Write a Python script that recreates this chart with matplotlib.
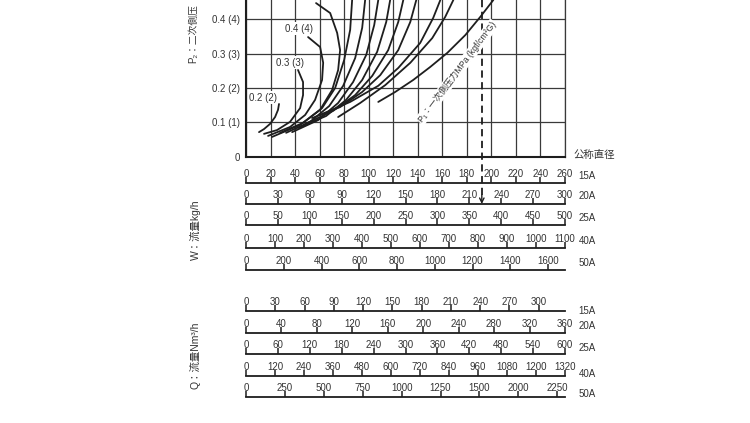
import matplotlib.pyplot as plt

plt.rcParams['font.family'] = ['Liberation Sans', 'Noto Sans CJK JP', 'DejaVu Sans']

# 二次側压力 (MPa) 刻度
p2_ticks = [0, 0.1, 0.2, 0.3, 0.4]
p2_labels = ['0', '0.1 (1)', '0.2 (2)', '0.3 (3)', '0.4 (4)']
w15_grid = list(range(0, 261, 20))

# 曲线: 横轴 = 15A 流量 kg/h, 纵轴 = P2 MPa
c02_w = [10.6, 14.7, 19.6, 23.7, 26.1, 26.9]
c02_p = [0.071, 0.080, 0.095, 0.115, 0.136, 0.153]
c03_w = [14.7, 25.3, 35.9, 44.1, 46.5, 46.5, 42.4]
c03_p = [0.066, 0.077, 0.101, 0.141, 0.179, 0.217, 0.252]
c04_w = [18.0, 35.9, 48.2, 56.3, 62.0, 62.9, 60.4, 50.6]
c04_p = [0.060, 0.086, 0.121, 0.165, 0.223, 0.273, 0.319, 0.348]
c05_w = [21.2, 44.1, 60.4, 70.2, 75.1, 76.7, 74.3, 68.6, 57.1]
c05_p = [0.057, 0.092, 0.136, 0.194, 0.252, 0.310, 0.360, 0.418, 0.447]
c06_w = [27.8, 46.5, 62.0, 72.7, 80.0, 84.9, 86.5]
c06_p = [0.069, 0.098, 0.141, 0.200, 0.281, 0.369, 0.456]
c07_w = [32.7, 52.2, 67.8, 79.2, 89.0, 94.7, 97.1]
c07_p = [0.069, 0.101, 0.147, 0.206, 0.287, 0.375, 0.456]
c08_w = [37.6, 58.8, 75.1, 87.3, 98.0, 104.5, 107.8]
c08_p = [0.071, 0.106, 0.156, 0.217, 0.296, 0.383, 0.456]
c09_w = [42.4, 65.3, 81.6, 94.7, 106.9, 114.3, 117.5]
c09_p = [0.083, 0.118, 0.165, 0.223, 0.305, 0.392, 0.456]
c10_w = [48.2, 71.0, 89.0, 102.9, 115.9, 124.1, 128.2]
c10_p = [0.095, 0.133, 0.179, 0.235, 0.310, 0.392, 0.456]
c11_w = [53.9, 76.7, 94.7, 109.4, 124.1, 133.9, 138.8]
c11_p = [0.112, 0.144, 0.188, 0.237, 0.310, 0.392, 0.456]
c12_w = [60.4, 84.9, 107.8, 124.1, 142.0, 152.6, 158.4]
c12_p = [0.121, 0.159, 0.206, 0.258, 0.331, 0.404, 0.456]
c13_w = [75.1, 93.1, 113.5, 133.9, 151.8, 162.4, 169.0]
c13_p = [0.115, 0.156, 0.208, 0.273, 0.345, 0.407, 0.456]
c14_w = [107.8, 121.6, 136.3, 150.2, 164.1, 178.8, 191.0, 201.6]
c14_p = [0.159, 0.188, 0.223, 0.261, 0.302, 0.354, 0.407, 0.456]

curves = [(c02_w, c02_p), (c03_w, c03_p), (c04_w, c04_p), (c05_w, c05_p),
          (c06_w, c06_p), (c07_w, c07_p), (c08_w, c08_p), (c09_w, c09_p),
          (c10_w, c10_p), (c11_w, c11_p), (c12_w, c12_p), (c13_w, c13_p),
          (c14_w, c14_p)]

curve_labels = ['0.2 (2)', '0.3 (3)', '0.4 (4)']
curve_label_w = [13.9, 35.9, 43.3]
curve_label_p = [0.171, 0.273, 0.372]

# 例: 读取线
example_w15 = 192.2

# W 流量 kg/h 刻度
w_names = ['15A', '20A', '25A', '40A', '50A']
w15_ticks = list(range(0, 261, 20))
w20_ticks = list(range(0, 301, 30))
w25_ticks = list(range(0, 501, 50))
w40_ticks = list(range(0, 1101, 100))
w50_ticks = list(range(0, 1601, 200))
w_ticks = [w15_ticks, w20_ticks, w25_ticks, w40_ticks, w50_ticks]
w_ends = [260, 300, 500, 1100, 1690]

# Q 流量 Nm3/h 刻度
q_names = ['15A', '20A', '25A', '40A', '50A']
q15_ticks = list(range(0, 301, 30))
q20_ticks = list(range(0, 361, 40))
q25_ticks = list(range(0, 601, 60))
q40_ticks = list(range(0, 1321, 120))
q50_ticks = list(range(0, 2001, 250))
q50_labels = ['0', '250', '500', '750', '1000', '1250', '1500', '2000', '2250']
q_ticks = [q15_ticks, q20_ticks, q25_ticks, q40_ticks, q50_ticks]
q_labels = [None, None, None, None, q50_labels]
q_ends = [327, 360, 600, 1320, 2050]

ink = '#1e1e1e'
txt_c = '#333333'
H = 423.0
W = 750.0

fig = plt.figure(figsize=(7.5, 4.23), dpi=100)
fig.patch.set_facecolor('white')

left = 246 / W
width = 319 / W

# ---- 主图 ----
ax = fig.add_axes([left, (H - 156.5) / H, width, 156.5 / H])
ax.set_xlim(0, 260)
ax.set_ylim(0, 0.456)
ax.set_xticks(w15_grid)
ax.set_xticklabels([])
ax.set_yticks(p2_ticks)
ax.set_yticklabels(p2_labels)
ax.tick_params(axis='x', length=0)
ax.tick_params(axis='y', length=0, pad=4, labelsize=7, colors=txt_c)
ax.grid(True, color='#3a3a3a', lw=0.9)
ax.set_axisbelow(True)
ax.spines['top'].set_visible(False)
ax.spines['right'].set_linewidth(0.9)
ax.spines['right'].set_color('#3a3a3a')
ax.spines['left'].set_linewidth(1.5)
ax.spines['bottom'].set_linewidth(1.5)
ax.spines['left'].set_color(ink)
ax.spines['bottom'].set_color(ink)

for cw, cp in curves:
    ax.plot(cw, cp, color=ink, lw=1.3, solid_capstyle='round', zorder=3)

for txt, lw_, lp in zip(curve_labels, curve_label_w, curve_label_p):
    ax.text(lw_, lp, txt, fontsize=7, ha='center', va='center', color=txt_c,
            bbox=dict(facecolor='white', edgecolor='none', pad=1.0), zorder=4)

ax.text(172.0, 0.246, 'P₁：一次側压力MPa (kgf/cm²G)', fontsize=6.3, color=txt_c,
        rotation=53, ha='center', va='center', rotation_mode='anchor',
        bbox=dict(facecolor='white', edgecolor='none', pad=0.8), zorder=4)

fig.text(594 / W, (H - 155) / H, '公称直径', fontsize=7.5, ha='center', va='center', color=txt_c)


def draw_scale(y_line, ticks, labels, end):
    sa = fig.add_axes([left, (H - y_line) / H, width, 2 / H])
    sa.set_xlim(0, end)
    sa.set_ylim(0, 1)
    sa.patch.set_visible(False)
    for s in ['top', 'left', 'right']:
        sa.spines[s].set_visible(False)
    sa.spines['bottom'].set_linewidth(1.3)
    sa.spines['bottom'].set_color(ink)
    sa.set_yticks([])
    sa.set_xticks(ticks)
    sa.set_xticklabels(labels if labels else [str(t) for t in ticks])
    sa.tick_params(axis='x', direction='in', length=4.5, width=1.1, color=ink,
                   bottom=True, top=False, labelbottom=False, labeltop=True,
                   pad=1.5, labelsize=7, labelcolor=txt_c)
    return sa


# ---- W 刻度 ----
w_lines = [183, 204, 225, 248, 270]
w_name_y = [176, 196, 218, 241, 263]
scale_axes = {}
for name, ticks, end, yl, yn in zip(w_names, w_ticks, w_ends, w_lines, w_name_y):
    scale_axes['W' + name] = draw_scale(yl, ticks, None, end)
    fig.text(587 / W, (H - yn) / H, name, fontsize=7, ha='center', va='center', color=txt_c)

# ---- Q 刻度 ----
q_lines = [311, 333, 354, 376, 397]
q_name_y = [311, 326, 348, 374, 394]
for name, ticks, labs, end, yl, yn in zip(q_names, q_ticks, q_labels, q_ends, q_lines, q_name_y):
    draw_scale(yl, ticks, labs, end)
    fig.text(587 / W, (H - yn) / H, name, fontsize=7, ha='center', va='center', color=txt_c)

# ---- 例: 虚线 + 箭头 ----
a20 = scale_axes['W20A']
y_bot = ax.transData.inverted().transform(a20.transAxes.transform((0, 0)))[1]
y_arrow = ax.transData.inverted().transform(a20.transAxes.transform((0, 0)) + [0, 9])[1]
ax.plot([example_w15, example_w15], [y_arrow, 0.456], color=ink, lw=1.3,
        linestyle=(0, (4, 2.5)), clip_on=False, zorder=2)
ax.annotate('', xy=(example_w15, y_bot), xytext=(example_w15, y_arrow),
            arrowprops=dict(arrowstyle='->', color=ink, lw=1.0, mutation_scale=8,
                            shrinkA=0, shrinkB=0), annotation_clip=False)

# ---- 纵轴标题 ----
fig.text(193 / W, (H - 63) / H, 'P₂：二次側压', fontsize=7,
         rotation=90, ha='center', va='bottom', color=txt_c)
fig.text(195 / W, (H - 230) / H, 'W：流量kg/h', fontsize=7.5, rotation=90,
         ha='center', va='center', color=txt_c)
fig.text(195 / W, (H - 355) / H, 'Q：流量Nm³/h', fontsize=7.5, rotation=90,
         ha='center', va='center', color=txt_c)

fig.savefig('out.png', dpi=100, facecolor='white')
